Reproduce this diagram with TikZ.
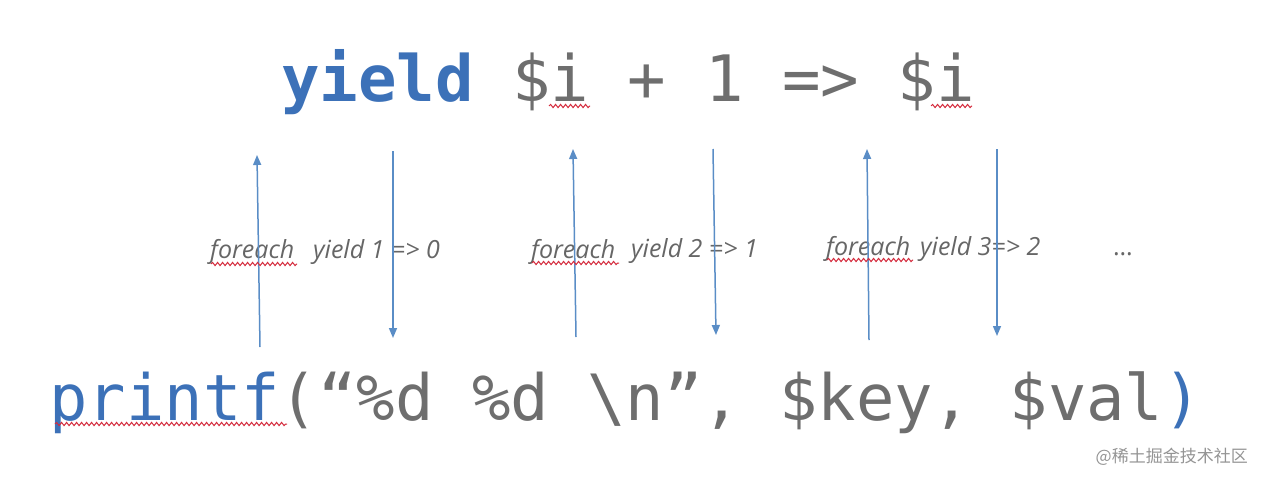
\documentclass[tikz,border=0pt]{standalone}
\usepackage{fontspec}
\usetikzlibrary{arrows.meta,decorations.pathmorphing}
\newfontfamily\codefont{DejaVu Sans Mono}
\newfontfamily\labfont{Open Sans}
\newfontfamily\cjk{Noto Sans CJK SC}
\definecolor{kwblue}{HTML}{3C71B8}
\definecolor{codegray}{HTML}{6E6E6E}
\definecolor{arrblue}{HTML}{5A8DC6}
\definecolor{labgray}{HTML}{666666}
\definecolor{squig}{HTML}{D42A3C}
\tikzset{
  toptext/.style={inner sep=0pt, anchor=base west, font=\codefont\fontsize{64}{64}\selectfont, text=codegray},
  bottext/.style={inner sep=0pt, anchor=base west, font=\codefont\fontsize{63.8}{64}\selectfont, text=codegray},
  lab/.style={inner sep=0pt, anchor=base west, font=\labfont\itshape\fontsize{25}{25}\selectfont, text=labgray},
  flow/.style={draw=arrblue, line width=1.5pt, -{Triangle[length=10pt,width=8pt]}},
  wavy/.style={draw=squig, line width=1pt, decorate, decoration={snake, segment length=5pt, amplitude=1.6pt}},
  wmark/.style={inner sep=0pt, anchor=base east, font=\cjk\fontsize{17}{17}\selectfont, text=black!42}
}
\begin{document}
\begin{tikzpicture}[x=1pt,y=-1pt]
\useasboundingbox (0,0) rectangle (1266,482);
% top code line
\node[toptext] (top) at (281,101) {\textcolor{kwblue}{\bfseries yield} \$i + 1 => \$i};
% bottom code line
\node[bottext] (bot) at (49.3,420) {\textcolor{kwblue}{printf}(“\%d \%d \textbackslash n”, \$key, \$val\textcolor{kwblue}{)}};
% arrow end points
\coordinate (a1s) at (260,347); \coordinate (a1e) at (257,155);
\coordinate (a2s) at (393,151); \coordinate (a2e) at (393,338);
\coordinate (a3s) at (576,337); \coordinate (a3e) at (573,149);
\coordinate (a4s) at (713,149); \coordinate (a4e) at (716,335);
\coordinate (a5s) at (869,340); \coordinate (a5e) at (867,149);
\coordinate (a6s) at (997,149); \coordinate (a6e) at (997,336);
% labels
\node[lab] (l1) at (210,258) {foreach};
\node[lab] (l2) at (313,258) {yield 1 => 0};
\node[lab] (l3) at (531,258) {foreach};
\node[lab] (l4) at (631,257) {yield 2 => 1};
\node[lab] (l5) at (826,255) {foreach};
\node[lab] (l6) at (920,255) {yield 3=> 2};
\node[lab, font=\labfont\fontsize{25}{25}\selectfont] (l7) at (1113,255) {…};
% arrows
\draw[flow] (a1s) -- (a1e);
\draw[flow] (a2s) -- (a2e);
\draw[flow] (a3s) -- (a3e);
\draw[flow] (a4s) -- (a4e);
\draw[flow] (a5s) -- (a5e);
\draw[flow] (a6s) -- (a6e);
% spell-check squiggles
\coordinate (s1a) at (549,106); \coordinate (s1b) at (590,106);
\coordinate (s2a) at (931,106); \coordinate (s2b) at (972,106);
\coordinate (s3a) at (211,264); \coordinate (s3b) at (297,264);
\coordinate (s4a) at (532,263); \coordinate (s4b) at (619,263);
\coordinate (s5a) at (827,260); \coordinate (s5b) at (913,260);
\coordinate (s6a) at (55,424); \coordinate (s6b) at (287,424);
\draw[wavy] (s1a) -- (s1b);
\draw[wavy] (s2a) -- (s2b);
\draw[wavy] (s3a) -- (s3b);
\draw[wavy] (s4a) -- (s4b);
\draw[wavy] (s5a) -- (s5b);
\draw[wavy] (s6a) -- (s6b);
% watermark
\node[wmark] (wm) at (1248,462) {@稀土掘金技术社区};
\end{tikzpicture}
\end{document}
